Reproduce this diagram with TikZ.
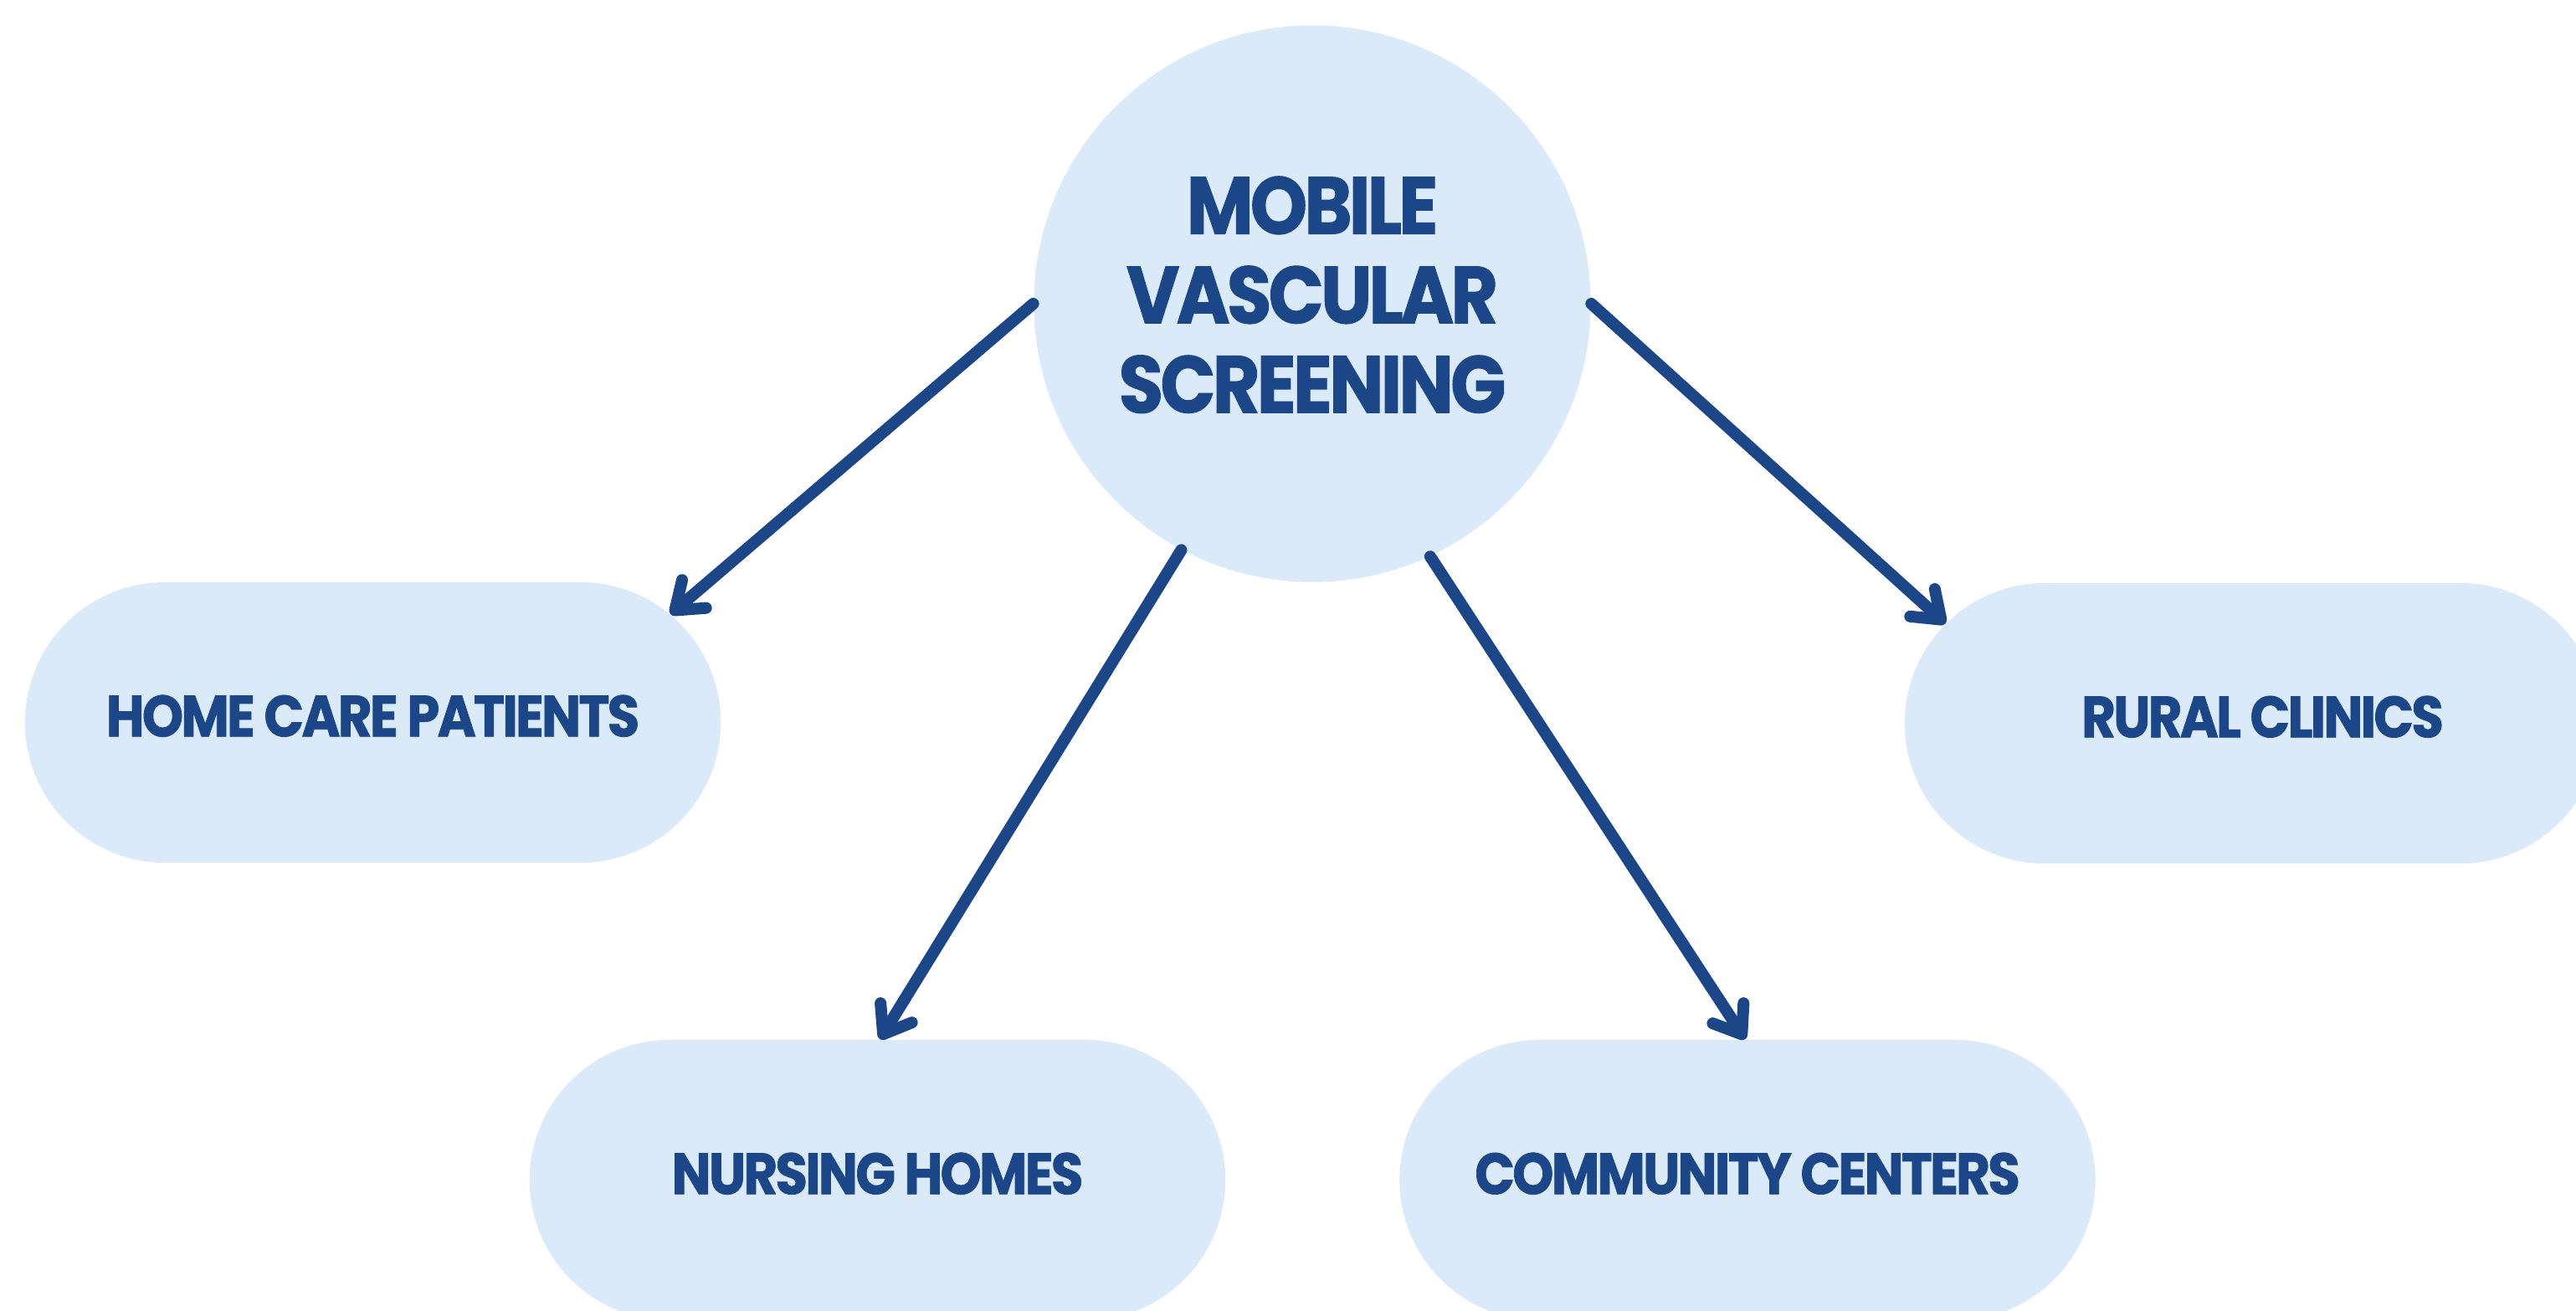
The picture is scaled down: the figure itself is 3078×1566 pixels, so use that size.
\documentclass[tikz,border=0pt]{standalone}
\usepackage{fontspec}
\newfontfamily\labelfont{Poppins}[FakeStretch=0.9, LetterSpace=-4, FakeBold=1]
\usetikzlibrary{shapes.misc, arrows.meta}
\definecolor{pillfill}{HTML}{DBEAF9}
\definecolor{ink}{HTML}{1B4789}
\begin{document}
\begin{tikzpicture}[x=0.01cm, y=-0.01cm,
  pill/.style={rounded rectangle, fill=pillfill, minimum width=8.31cm,
    minimum height=3.35cm, inner sep=0pt, text=ink, text depth=0.16cm,
    font=\labelfont\bfseries\fontsize{19.8}{24}\selectfont},
  hub/.style={circle, fill=pillfill, minimum size=6.65cm, inner sep=0pt,
    text=ink, align=center, text depth=0.22cm,
    font=\labelfont\bfseries\fontsize{27.5}{30.4}\selectfont},
  link/.style={draw=ink, line width=4pt, line cap=round,
    -{Straight Barb[length=3mm, width=4.4mm, round]}}]
\useasboundingbox (0,0) rectangle (3078,1566);
\clip (0,0) rectangle (3078,1566);

% central topic
\node[hub] (hub) at (1568,363) {MOBILE\\VASCULAR\\SCREENING};

% settings
\node[pill] (home)      at (445.5,863.5)  {HOME CARE PATIENTS};
\node[pill] (rural)     at (2691.5,864.5) {\hspace*{0.24cm}RURAL CLINICS};
\node[pill] (nursing)   at (1048.5,1410.5) {NURSING HOMES};
\node[pill] (community) at (2088,1410.5)  {COMMUNITY CENTERS};

% connectors
\draw[link] (hub.180) -- (home.20);
\draw[link] (hub.242) -- (nursing.89);
\draw[link] (hub.295) -- (community.91);
\draw[link] (hub.0)   -- (rural.162);
\end{tikzpicture}
\end{document}
